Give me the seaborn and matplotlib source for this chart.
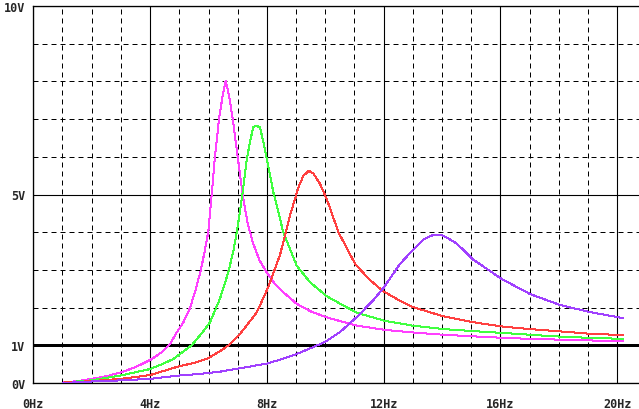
import numpy as np
import pandas as pd
import seaborn as sns
import matplotlib
matplotlib.use("Agg")
import matplotlib.pyplot as plt
from matplotlib.ticker import MultipleLocator, FixedLocator

# ---- data ----
mag_f = [1.0, 1.5, 2.0, 2.5, 3.0, 3.5, 4.0, 4.22, 4.4, 4.68, 4.91, 5.14, 5.37, 5.55, 5.74, 5.87, 5.99,
         6.11, 6.22, 6.36, 6.48, 6.59, 6.71, 6.83, 7.0, 7.1, 7.2, 7.35, 7.53, 7.75, 7.99, 8.25, 8.56,
         9.02, 9.5, 10.05, 11.08, 12.04, 13.0, 14.04, 15.0, 16.04, 17.0, 18.04, 19.0, 20.2]
mag_v = [0.01, 0.05, 0.11, 0.18, 0.28, 0.42, 0.61, 0.72, 0.82, 1.03, 1.34, 1.61, 2.0, 2.45, 3.0, 3.5, 4.0,
         5.0, 6.0, 7.0, 7.6, 8.02, 7.6, 7.0, 6.0, 5.4, 4.85, 4.2, 3.7, 3.25, 2.94, 2.65, 2.41,
         2.10, 1.90, 1.74, 1.52, 1.41, 1.34, 1.28, 1.24, 1.20, 1.17, 1.15, 1.13, 1.11]

grn_f = [1.0, 2.0, 3.0, 4.0, 4.5, 4.8, 5.02, 5.42, 5.75, 6.05, 6.39, 6.68, 6.85, 6.97, 7.14, 7.31, 7.45,
         7.53, 7.63, 7.76, 7.88, 7.99, 8.22, 8.45, 8.56, 9.02, 9.48, 10.05, 11.08, 12.04, 13.0, 14.04,
         15.0, 16.04, 17.0, 18.04, 19.0, 20.2]
grn_v = [0.01, 0.07, 0.20, 0.37, 0.53, 0.64, 0.77, 1.0, 1.3, 1.61, 2.23, 2.94, 3.5, 4.0, 4.88, 5.94, 6.5,
         6.78, 6.83, 6.78, 6.4, 5.97, 5.06, 4.35, 4.0, 3.11, 2.67, 2.30, 1.86, 1.65, 1.52, 1.43,
         1.38, 1.33, 1.28, 1.23, 1.20, 1.17]

red_f = [1.0, 2.0, 3.0, 4.0, 5.02, 5.5, 5.94, 6.39, 6.74, 7.08, 7.65, 8.05, 8.45, 8.79, 9.08, 9.25, 9.44,
         9.6, 9.82, 10.05, 10.45, 11.02, 11.5, 11.99, 12.56, 13.01, 14.04, 15.0, 16.04, 17.0, 18.04,
         19.0, 20.2]
red_v = [0.01, 0.05, 0.11, 0.21, 0.45, 0.53, 0.64, 0.84, 1.03, 1.3, 1.87, 2.55, 3.4, 4.44, 5.19, 5.5, 5.63,
         5.55, 5.28, 4.88, 4.0, 3.16, 2.75, 2.43, 2.18, 2.01, 1.77, 1.62, 1.50, 1.43, 1.37,
         1.31, 1.27]

pur_f = [1.0, 2.0, 3.0, 4.0, 5.02, 5.71, 6.39, 7.0, 8.03, 8.57, 9.02, 9.82, 10.05, 10.5, 11.08, 11.65,
         11.99, 12.56, 13.01, 13.35, 13.70, 14.04, 14.5, 15.07, 16.04, 17.01, 18.04, 19.07, 20.2]
pur_v = [0.0, 0.04, 0.07, 0.11, 0.20, 0.24, 0.30, 0.38, 0.52, 0.65, 0.77, 1.03, 1.12, 1.35, 1.75, 2.2,
         2.52, 3.16, 3.54, 3.8, 3.93, 3.91, 3.7, 3.27, 2.76, 2.36, 2.07, 1.88, 1.72]

series_names = ["m", "g", "r", "p"]
series_colors = ["#FF40FF", "#40FF40", "#FF4040", "#A040FF"]

x_ticks = [0, 4, 8, 12, 16, 20]
x_labels = ["0Hz", "4Hz", "8Hz", "12Hz", "16Hz", "20Hz"]
y_ticks = [0, 1, 5, 10]
y_labels = ["0V", "1V", "5V", "10V"]
ref_level = 1.0

frames = []
for name, f, v in zip(series_names, [mag_f, grn_f, red_f, pur_f], [mag_v, grn_v, red_v, pur_v]):
    frames.append(pd.DataFrame({"f": f, "v": v, "s": name}))
df = pd.concat(frames, ignore_index=True)

# ---- figure ----
sns.set_style("white")
plt.rcParams["font.family"] = ["DejaVu Sans Mono", "DejaVu Sans"]

W, H = 639, 410
fig = plt.figure(figsize=(W / 100, H / 100), dpi=100)
left, bottom, top = 33.3, 26, 7
ax = fig.add_axes([left / W, bottom / H, (W - left) / W, (H - bottom - top) / H])

px = 0.72  # one pixel in points

ax.set_xlim(0, (W - left) / 29.2)
ax.set_ylim(0, 10)

# grid
ax.xaxis.set_major_locator(FixedLocator(x_ticks))
ax.xaxis.set_minor_locator(MultipleLocator(1))
ax.yaxis.set_major_locator(FixedLocator(y_ticks))
ax.yaxis.set_minor_locator(FixedLocator([2, 3, 4, 6, 7, 8, 9]))
ax.grid(which="major", axis="x", color="black", lw=1.1 * px, ls="-")
ax.grid(which="major", axis="y", color="black", lw=1.1 * px, ls="-")
ax.grid(which="minor", color="black", lw=1.0 * px, ls=(0, (5, 4)))
ax.set_axisbelow(True)

ax.axhline(ref_level, color="black", lw=3 * px, zorder=1.5)

sns.lineplot(data=df, x="f", y="v", hue="s", palette=dict(zip(series_names, series_colors)),
             sort=False, estimator=None, legend=False, lw=1.0 * px, ax=ax, zorder=3,
             antialiased=False)

ax.set_xticks(x_ticks)
ax.set_xticklabels(x_labels)
ax.set_yticks(y_ticks)
ax.set_yticklabels(y_labels)
ax.set_xlabel("")
ax.set_ylabel("")
ax.tick_params(which="major", direction="out", length=4 * px, width=1 * px, color="black",
               labelsize=8.5, pad=3)
ax.tick_params(axis="x", which="major", pad=7)
ax.tick_params(which="minor", length=0)
for lab in ax.get_xticklabels() + ax.get_yticklabels():
    lab.set_fontweight("bold")

for side in ["left", "bottom", "top"]:
    ax.spines[side].set_color("black")
    ax.spines[side].set_linewidth(1.3 * px)
ax.spines["right"].set_visible(False)

fig.savefig("out.png", dpi=100, facecolor="white")
